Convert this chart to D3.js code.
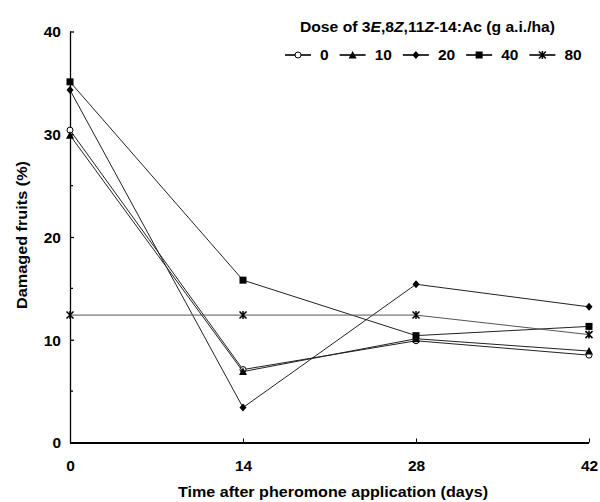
<!DOCTYPE html>
<html>
<head>
<meta charset="utf-8">
<script src="https://cdn.jsdelivr.net/npm/d3@7"></script>
<style>
  body { margin: 0; background: #fff; }
  svg { display: block; font-family: Arial, "Liberation Sans", sans-serif; }
  .tick text { font-weight: bold; font-size: 15.5px; fill: #000; }
</style>
</head>
<body>
<div id="chart"></div>
<script>
// days after application
var days = [0, 14, 28, 42];
var doses = ["0", "10", "20", "40", "80"];
var symbols = ["circle", "triangle", "diamond", "square", "asterisk"];
// damaged fruits (%) per dose
var dose0 = [30.4, 7.1, 9.9, 8.5];
var dose10 = [29.9, 6.9, 10.1, 8.9];
var dose20 = [34.3, 3.4, 15.4, 13.2];
var dose40 = [35.1, 15.8, 10.4, 11.3];
var dose80 = [12.4, 12.4, 12.4, 10.5];
var yTicks = [0, 10, 20, 30, 40];
var yMinor = [5, 15, 25, 35];

var width = 600, height = 502;
var x0 = 70, x1 = 589, yTop = 31.5, yBot = 442.5;

var svg = d3.select("#chart").append("svg")
  .attr("width", width)
  .attr("height", height);

var x = d3.scaleLinear().domain([0, 42]).range([x0, x1]);
var y = d3.scaleLinear().domain([0, 40]).range([yBot, yTop]);

var series = [dose0, dose10, dose20, dose40, dose80].map(function(v, i) {
  return { dose: doses[i], sym: symbols[i], values: v.map(function(d, j) { return { day: days[j], val: d }; }) };
});

// y axis
var yAxis = svg.append("g")
  .attr("transform", "translate(" + x0 + ",0)")
  .call(d3.axisRight(y).tickValues(yTicks).tickSize(4).tickFormat(d3.format("d")));
yAxis.select(".domain").attr("stroke", "#000").attr("stroke-width", 1.3).attr("d", "M0.5," + yTop + "V" + yBot);
yAxis.selectAll(".tick line").attr("stroke", "#000").attr("stroke-width", 1.3);
yAxis.selectAll(".tick text").attr("x", -9).attr("text-anchor", "end").attr("dy", "0.35em");
svg.append("g").selectAll("line").data(yMinor).enter().append("line")
  .attr("x1", x0).attr("x2", x0 + 3)
  .attr("y1", function(d) { return y(d); }).attr("y2", function(d) { return y(d); })
  .attr("stroke", "#000").attr("stroke-width", 1.3);

// x axis
var xAxis = svg.append("g")
  .attr("transform", "translate(0," + yBot + ")")
  .call(d3.axisTop(x).tickValues(days).tickSize(4).tickFormat(d3.format("d")));
xAxis.select(".domain").attr("stroke", "#000").attr("stroke-width", 2.2).attr("d", "M" + x0 + ",0.5H" + x1);
xAxis.selectAll(".tick line").attr("stroke", "#000").attr("stroke-width", 1);
xAxis.selectAll(".tick text").attr("y", 23).attr("dy", "0.35em");

// axis titles
svg.append("text")
  .attr("x", 333).attr("y", 497)
  .attr("text-anchor", "middle")
  .attr("textLength", 310).attr("lengthAdjust", "spacingAndGlyphs")
  .style("font-weight", "bold").style("font-size", "15px")
  .text("Time after pheromone application (days)");
svg.append("text")
  .attr("transform", "translate(27,235) rotate(-90)")
  .attr("text-anchor", "middle")
  .attr("textLength", 148).attr("lengthAdjust", "spacingAndGlyphs")
  .style("font-weight", "bold").style("font-size", "15px")
  .text("Damaged fruits (%)");

// marker drawing
function drawMarker(g, sym) {
  if (sym === "circle") {
    g.append("circle").attr("r", 3).attr("fill", "#fff").attr("stroke", "#000").attr("stroke-width", 1);
  } else if (sym === "triangle") {
    g.append("path").attr("d", "M0,-4L4,3.5L-4,3.5Z").attr("fill", "#000");
  } else if (sym === "diamond") {
    g.append("path").attr("d", "M0,-4L3.5,0L0,4L-3.5,0Z").attr("fill", "#000");
  } else if (sym === "square") {
    g.append("rect").attr("x", -3.5).attr("y", -3.5).attr("width", 7).attr("height", 7).attr("fill", "#000");
  } else {
    g.append("path").attr("d", "M-3.5,-3.5L3.5,3.5M-3.5,3.5L3.5,-3.5M0,-4V4")
      .attr("stroke", "#000").attr("stroke-width", 1.5).attr("fill", "none");
  }
}

var line = d3.line().x(function(d) { return x(d.day); }).y(function(d) { return y(d.val); });

var sg = svg.append("g").selectAll("g").data(series).enter().append("g");
sg.append("path")
  .attr("d", function(d) { return line(d.values); })
  .attr("fill", "none")
  .attr("stroke", function(d) { return d.dose === "80" ? "#555" : "#222"; })
  .attr("stroke-width", 1);
sg.each(function(s) {
  var g = d3.select(this);
  s.values.forEach(function(v) {
    var m = g.append("g").attr("transform", "translate(" + x(v.day) + "," + y(v.val) + ")");
    drawMarker(m, s.sym);
  });
});

// legend
var title = svg.append("text")
  .attr("x", 300).attr("y", 32)
  .attr("textLength", 255).attr("lengthAdjust", "spacingAndGlyphs")
  .style("font-weight", "bold").style("font-size", "14px");
title.append("tspan").text("Dose of 3");
title.append("tspan").style("font-style", "italic").text("E");
title.append("tspan").text(",8");
title.append("tspan").style("font-style", "italic").text("Z");
title.append("tspan").text(",11");
title.append("tspan").style("font-style", "italic").text("Z");
title.append("tspan").text("-14:Ac (g a.i./ha)");

var lx = 285, ly = 55;
series.forEach(function(s) {
  var g = svg.append("g").attr("transform", "translate(" + lx + "," + ly + ")");
  g.append("line").attr("x1", 0).attr("x2", 26).attr("stroke", "#000").attr("stroke-width", 1.6);
  var m = g.append("g").attr("transform", "translate(13,0)");
  drawMarker(m, s.sym);
  var t = g.append("text").attr("x", 35).attr("dy", "0.35em")
    .style("font-weight", "bold").style("font-size", "15.5px").text(s.dose);
  lx += 35 + t.node().getComputedTextLength() + 11;
});
</script>
</body>
</html>
